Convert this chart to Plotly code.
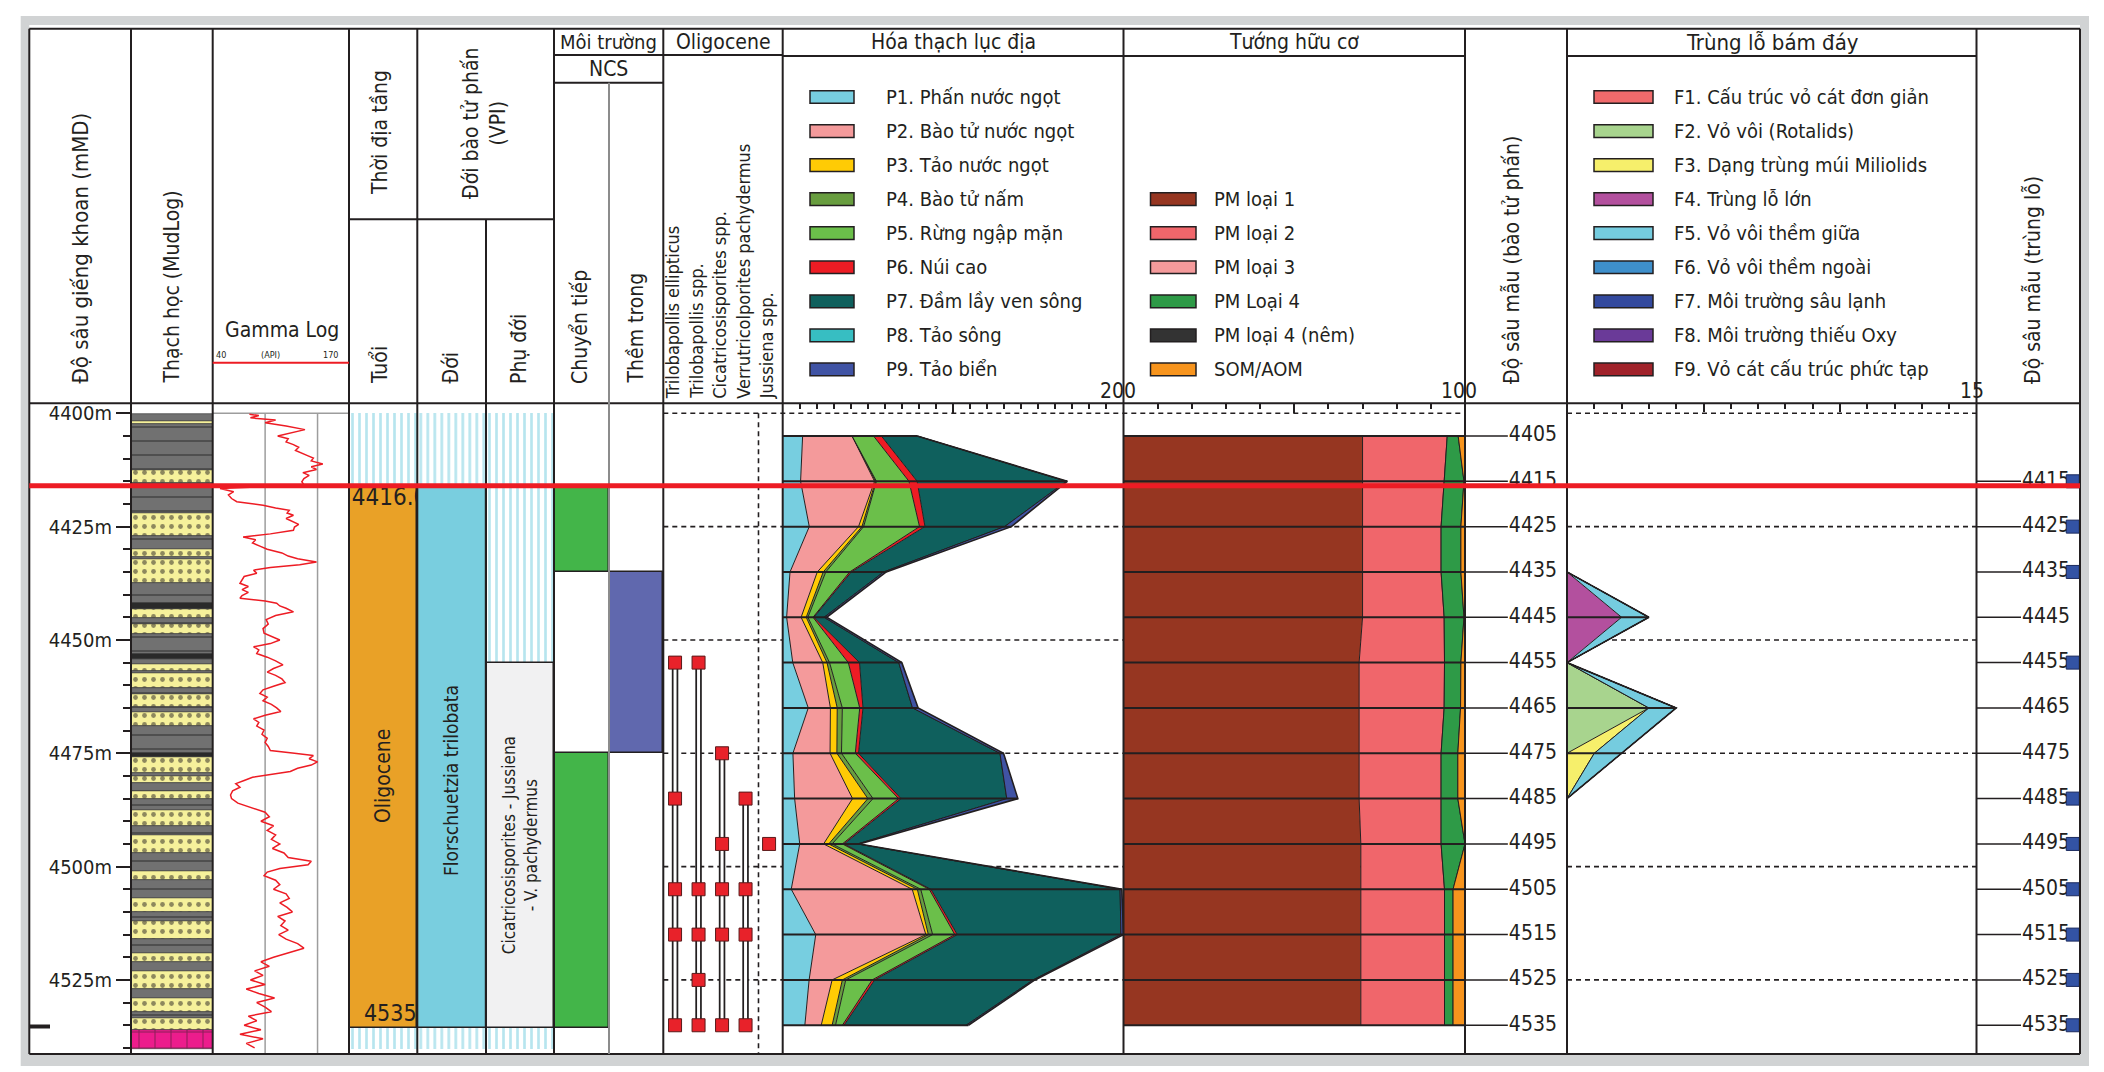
import plotly.graph_objects as go
import numpy as np

W, H = 2104, 1072
D0, Y0, K = 4400.0, 413.3, 4.533          # depth 4400 m at pixel row 413.3, 4.533 px per metre
FONT = "DejaVu Sans Condensed, Liberation Sans Narrow, sans-serif"
INK = "#231F20"

# ---------------- DATA ----------------
samples = [4405, 4415, 4425, 4435, 4445, 4455, 4465, 4475, 4485, 4495, 4505, 4515, 4525, 4535]

# Palynology (Hóa thạch lục địa), counts per sample
pal_names = ["P1. Phấn nước ngọt", "P2. Bào tử nước ngọt", "P3. Tảo nước ngọt", "P4. Bào tử nấm",
             "P5. Rừng ngập mặn", "P6. Núi cao", "P7. Đầm lầy ven sông", "P8. Tảo sông", "P9. Tảo biển"]
pal_colors = ["#77CEE0", "#F49A9B", "#FFCB05", "#689D3F", "#6BBF4A", "#ED1C24", "#0F605D", "#37BEC2", "#4053A4"]
P1 = [11.7, 10.5, 15.6, 4.3, 2.3, 5.9, 15.0, 6.0, 7.0, 10.0, 5.0, 19.4, 15.5, 13.0]
P2 = [29.0, 43.4, 28.9, 16.0, 8.5, 17.6, 13.0, 21.8, 34.0, 14.0, 71.0, 64.6, 13.5, 9.6]
P3 = [0.0, 0.6, 2.0, 3.5, 3.0, 2.5, 4.0, 4.0, 9.0, 3.0, 3.0, 1.5, 6.0, 6.4]
P4 = [0.0, 0.5, 1.0, 1.5, 1.0, 1.5, 3.0, 2.7, 3.0, 2.0, 2.0, 2.5, 2.0, 2.0]
P5 = [12.6, 19.1, 32.8, 14.0, 3.0, 11.0, 10.2, 8.1, 15.0, 6.0, 5.0, 13.0, 15.5, 4.0]
P6 = [4.6, 4.8, 3.2, 1.0, 0.5, 6.6, 1.9, 1.9, 1.5, 1.0, 1.0, 1.5, 1.5, 1.0]
P7 = [21.0, 87.6, 46.7, 19.0, 6.0, 23.0, 29.1, 83.0, 62.0, 8.0, 111.0, 96.0, 93.0, 71.6]
P8 = [0.0, 0.0, 0.0, 0.0, 0.0, 0.0, 0.0, 0.0, 0.0, 0.0, 0.0, 0.0, 0.0, 0.0]
P9 = [0.0, 0.5, 4.0, 1.5, 1.5, 1.8, 3.3, 2.1, 6.5, 1.0, 1.0, 1.5, 1.0, 1.4]

# Organic facies (Tướng hữu cơ), percent
pm_names = ["PM loại 1", "PM loại 2", "PM loại 3", "PM Loại 4", "PM loại 4 (nêm)", "SOM/AOM"]
pm_colors = ["#963621", "#F0666B", "#F49A9B", "#2E9A47", "#333333", "#F7941D"]
PM1 = [70.0, 70.0, 70.0, 70.0, 70.0, 69.0, 69.0, 69.0, 69.0, 69.5, 69.5, 69.5, 69.5, 69.5]
PM2 = [24.8, 23.9, 23.0, 23.0, 23.9, 25.0, 24.9, 24.0, 24.0, 23.5, 24.5, 24.5, 24.5, 24.5]
PM3 = [0.0] * 14
PM4 = [3.2, 5.8, 5.8, 5.8, 5.8, 4.8, 4.8, 4.9, 4.9, 7.0, 2.5, 2.5, 2.5, 2.5]
PM4N = [0.0] * 14
SOM = [2.0, 0.3, 1.2, 1.2, 0.3, 1.2, 1.3, 2.1, 2.1, 0.0, 3.5, 3.5, 3.5, 3.5]

# Benthic foraminifera (Trùng lỗ bám đáy)
fo_names = ["F1. Cấu trúc vỏ cát đơn giản", "F2. Vỏ vôi (Rotalids)", "F3. Dạng trùng múi Miliolids",
            "F4. Trùng lỗ lớn", "F5. Vỏ vôi thềm giữa", "F6. Vỏ vôi thềm ngoài", "F7. Môi trường sâu lạnh",
            "F8. Môi trường thiếu Oxy", "F9. Vỏ cát cấu trúc phức tạp"]
fo_colors = ["#F06A6B", "#A8D48E", "#F6EF6B", "#B3509E", "#75CCDF", "#3E8FCB", "#33499E", "#6A3A98", "#A0222A"]
F1 = [0] * 14
F2 = [0, 0, 0, 0, 0, 0, 3, 0, 0, 0, 0, 0, 0, 0]
F3 = [0, 0, 0, 0, 0, 0, 0, 1, 0, 0, 0, 0, 0, 0]
F4 = [0, 0, 0, 0, 2, 0, 0, 0, 0, 0, 0, 0, 0, 0]
F5 = [0, 0, 0, 0, 1, 0, 1, 1, 0, 0, 0, 0, 0, 0]
F6 = [0] * 14
F7 = [0] * 14
F8 = [0] * 14
F9 = [0] * 14
fo_depth_labels = [4415, 4425, 4435, 4445, 4455, 4465, 4475, 4485, 4495, 4505, 4515, 4525, 4535]
fo_marked = [4415, 4425, 4435, 4455, 4485, 4495, 4505, 4515, 4525, 4535]

# Lithology (MudLog)
litho_top = [4400.2, 4401.7, 4402.4, 4412.5, 4415.4, 4422.1, 4427.1, 4430.0, 4431.6, 4432.1, 4437.4, 4441.8,
             4443.1, 4445.1, 4446.5, 4448.7, 4453.2, 4454.1, 4455.4, 4456.8, 4457.2, 4460.5, 4462.0, 4464.9,
             4466.0, 4469.0, 4474.9, 4475.8, 4479.4, 4480.1, 4481.6, 4483.4, 4485.0, 4487.5, 4491.0, 4493.0,
             4497.0, 4501.0, 4503.0, 4507.0, 4510.0, 4512.0, 4516.0, 4519.0, 4521.0, 4523.0, 4527.0, 4529.0,
             4532.0, 4533.5, 4536.0]
litho_base = litho_top[1:] + [4540.2]
litho_type = ["shale", "sand", "shale", "sand", "shale", "sand", "shale", "sand", "shale", "sand", "shale", "coal",
              "sand", "shale", "sand", "shale", "coal", "shale", "sand", "shale", "sand", "shale", "sand", "shale",
              "sand", "shale", "coal", "sand", "shale", "sand", "shale", "sand", "shale", "sand", "shale", "sand",
              "shale", "sand", "shale", "sand", "shale", "sand", "shale", "sand", "shale", "sand", "shale", "sand",
              "shale", "sand", "basement"]

# Gamma ray log (API)
gr_depth = [4400.2, 4400.5, 4401.0, 4401.5, 4402.1, 4402.8, 4403.6, 4404.3, 4405.0, 4405.6, 4406.3, 4406.9,
            4407.5, 4408.2, 4408.8, 4409.4, 4409.9, 4410.5, 4411.2, 4411.8, 4412.4, 4413.1, 4413.7, 4414.4,
            4415.1, 4415.8, 4416.6, 4417.3, 4418.0, 4418.8, 4419.5, 4420.3, 4420.9, 4421.4, 4422.0, 4422.5,
            4423.2, 4423.8, 4424.5, 4425.1, 4425.8, 4426.6, 4427.3, 4427.9, 4428.6, 4429.3, 4430.0, 4430.8,
            4431.5, 4432.1, 4432.8, 4433.4, 4434.0, 4434.6, 4435.3, 4436.0, 4436.8, 4437.5, 4438.2, 4438.9,
            4439.5, 4440.2, 4440.8, 4441.4, 4441.9, 4442.5, 4443.0, 4443.8, 4444.6, 4445.5, 4446.5, 4447.5,
            4448.5, 4449.3, 4450.0, 4450.8, 4451.5, 4452.2, 4453.0, 4453.8, 4454.6, 4455.5, 4456.3, 4457.1,
            4457.8, 4458.6, 4459.4, 4460.2, 4461.0, 4461.8, 4462.6, 4463.4, 4464.2, 4465.0, 4465.8, 4466.6,
            4467.4, 4468.2, 4469.0, 4469.9, 4470.8, 4471.7, 4472.6, 4473.5, 4474.4, 4475.0, 4475.5, 4476.2,
            4476.9, 4477.6, 4478.3, 4479.0, 4479.7, 4480.3, 4481.0, 4481.7, 4482.5, 4483.3, 4484.2, 4485.0,
            4486.0, 4487.0, 4488.0, 4489.0, 4490.0, 4491.0, 4492.0, 4493.0, 4494.0, 4495.0, 4496.0, 4497.0,
            4498.0, 4498.8, 4499.6, 4500.4, 4501.2, 4502.0, 4503.0, 4504.0, 4505.0, 4506.0, 4507.0, 4508.0,
            4509.0, 4510.0, 4511.0, 4512.0, 4513.0, 4514.0, 4515.0, 4516.0, 4517.0, 4518.0, 4519.0, 4520.0,
            4521.0, 4522.0, 4523.0, 4524.0, 4525.0, 4526.0, 4527.0, 4528.0, 4529.0, 4530.0, 4531.0, 4532.0,
            4533.0, 4534.0, 4535.0, 4536.0, 4537.0, 4538.0, 4539.0, 4540.0]
gr_api = [75, 84, 76, 100, 90, 110, 128, 116, 102, 112, 110, 117,
          122, 119, 126, 131, 136, 134, 145, 134, 139, 126, 132, 127,
          125, 127, 47, 60, 55, 58, 63, 88, 100, 113, 111, 117,
          110, 115, 122, 118, 117, 95, 69, 81, 78, 85, 92, 106,
          112, 121, 139, 123, 95, 79, 82, 70, 68, 66, 74, 68,
          74, 68, 66, 90, 101, 104, 110, 117, 100, 91, 93, 88,
          89, 98, 104, 95, 79, 84, 82, 92, 100, 107, 98, 92,
          100, 106, 109, 98, 88, 85, 92, 88, 96, 101, 105, 90,
          79, 84, 82, 89, 87, 92, 90, 93, 95, 118, 136, 132,
          140, 134, 121, 114, 92, 78, 70, 62, 66, 59, 57, 58,
          64, 78, 90, 94, 86, 98, 92, 100, 96, 104, 97, 108,
          112, 134, 131, 104, 92, 89, 100, 104, 98, 110, 113, 104,
          111, 116, 102, 109, 105, 112, 103, 110, 121, 127, 112, 98,
          86, 94, 80, 88, 76, 90, 72, 84, 99, 82, 90, 96,
          74, 82, 70, 86, 66, 88, 72, 80]
gr_grid = [90, 140]

# Stratigraphy / environment intervals
age_top = [4400.0, 4416.0, 4535.5]
age_base = [4416.0, 4535.5, 4540.2]
age_kind = ["hatch", "fill", "hatch"]
age_name = "Oligocene"
zone_top = [4400.0, 4416.0, 4535.5]
zone_base = [4416.0, 4535.5, 4540.2]
zone_kind = ["hatch", "fill", "hatch"]
zone_name = "Florschuetzia trilobata"
subzone_top = [4400.0, 4455.0, 4535.5]
subzone_base = [4455.0, 4535.5, 4540.2]
subzone_kind = ["hatch", "fill", "hatch"]
subzone_name = "Cicatricosisporites - Jussiena<br>- V. pachydermus"
trans_top = [4416.0, 4475.0]
trans_base = [4435.0, 4535.5]
shelf_top = [4435.0]
shelf_base = [4475.0]
age_labels = ["4416.0", "4535"]

# Oligocene marker species occurrences
sp_names = ["Trilobapollis ellipticus", "Trilobapollis spp.", "Cicatricosisporites spp.",
            "Verrutricolporites pachydermus", "Jussiena spp."]
sp_occ = [[4455, 4485, 4505, 4515, 4535],
          [4455, 4505, 4515, 4525, 4535],
          [4475, 4495, 4505, 4515, 4535],
          [4485, 4505, 4515, 4535],
          [4495]]

depth_ticks = [4400, 4425, 4450, 4475, 4500, 4525]
depth_minor = [4405, 4410, 4415, 4420, 4430, 4435, 4440, 4445, 4455, 4460, 4465, 4470, 4480, 4485, 4490,
               4495, 4505, 4510, 4515, 4520, 4530, 4535, 4540]
boundary_depth = 4416.0

# ---------------- HELPERS ----------------
def dep(y):
    return D0 + (y - Y0) / K

def px(x):
    return x / W

def py(y):
    return 1 - y / H

Y_BOT = dep(1054)
traces = []
shapes = []
annotations = []

def ann(x, y, text, size=21, angle=0, xa="center", ya="middle", xref="paper", yref="paper", align="center"):
    if xref == "paper":
        x = px(x)
    if yref == "paper":
        y = py(y)
    annotations.append(dict(x=x, y=y, xref=xref, yref=yref, text=text, showarrow=False, textangle=angle,
                            xanchor=xa, yanchor=ya, align=align, borderpad=0,
                            font=dict(family=FONT, size=size, color=INK)))

def hline(y, x0, x1, color=INK, width=2, dash=None, layer="above"):
    shapes.append(dict(type="line", xref="paper", yref="paper", x0=px(x0), x1=px(x1), y0=py(y), y1=py(y),
                       line=dict(color=color, width=width, dash=dash), layer=layer))

def vline(x, y0, y1, color=INK, width=2, layer="above"):
    shapes.append(dict(type="line", xref="paper", yref="paper", x0=px(x), x1=px(x), y0=py(y0), y1=py(y1),
                       line=dict(color=color, width=width), layer=layer))

def rect(x0, y0, x1, y1, fill, lc=INK, lw=1.5, layer="above"):
    shapes.append(dict(type="rect", xref="paper", yref="paper", x0=px(x0), x1=px(x1), y0=py(y0), y1=py(y1),
                       fillcolor=fill, line=dict(color=lc, width=lw), layer=layer))

def interval_bars(axis, tops, bases, color, pattern=None, lw=1.5, lc=INK):
    thick = [b - t for t, b in zip(tops, bases)]
    m = dict(color=color, line=dict(color=lc, width=lw))
    if pattern:
        m["pattern"] = pattern
    traces.append(go.Bar(x=[0.5] * len(tops), y=thick, base=tops, width=[1.0] * len(tops), xaxis=axis, yaxis="y",
                         marker=m, hoverinfo="skip", showlegend=False))

HATCH = dict(shape="|", fgcolor="#6FCBDD", bgcolor="white", size=7, solidity=0.38)

def stack(axis, series, colors, depths, names, outer_w=1.6):
    cum = np.zeros(len(depths))
    for i, (vals, col, nm) in enumerate(zip(series, colors, names)):
        cum = cum + np.array(vals, dtype=float)
        traces.append(go.Scatter(x=cum.copy(), y=depths, xaxis=axis, yaxis="y", mode="lines", name=nm,
                                 line=dict(color=INK, width=outer_w if i == len(series) - 1 else 1.0),
                                 fill="tozerox" if i == 0 else "tonextx", fillcolor=col,
                                 hoverinfo="skip", showlegend=False))
    lx, ly = [], []
    for d, t in zip(depths, cum):
        lx += [0, t, None]
        ly += [d, d, None]
    traces.append(go.Scatter(x=lx, y=ly, xaxis=axis, yaxis="y", mode="lines", line=dict(color=INK, width=2),
                             hoverinfo="skip", showlegend=False))

# ---------------- COLUMNS (pixel extents -> axes) ----------------
cols = {
    "x": (131, 212.7, [0, 1]),         # lithology
    "x2": (212.7, 349, [40, 170]),     # gamma
    "x3": (349, 417.3, [0, 1]),        # age
    "x4": (417.3, 486, [0, 1]),        # zone
    "x5": (486, 554, [0, 1]),          # subzone
    "x6": (554, 609, [0, 1]),          # transitional
    "x7": (609, 663.3, [0, 1]),        # inner shelf
    "x8": (663.3, 782.7, [-0.5, 4.58]),  # marker species
    "x9": (782.7, 1123.5, [0, 200]),   # palynology
    "x10": (1123.5, 1465, [0, 100]),   # organic facies
    "x11": (1567, 1976.5, [0, 15]),    # foraminifera
    "x12": (1465, 1567, [0, 1]),       # sample depths (palyno)
    "x13": (1976.5, 2080, [0, 1]),     # sample depths (foram)
}

# ---------------- TRACES ----------------
styles = {
    "sand": dict(color="#F6F19B", pattern=dict(shape=".", fgcolor=INK, bgcolor="#F6F19B", size=9, solidity=0.22)),
    "shale": dict(color="#717171", pattern=dict(shape="-", fgcolor="#1E1E1E", bgcolor="#717171", size=14, solidity=0.12)),
    "coal": dict(color="#2A2A2A", pattern=None),
    "basement": dict(color="#EC1C8C", pattern=dict(shape="+", fgcolor=INK, bgcolor="#EC1C8C", size=16, solidity=0.12)),
}
for kind, st in styles.items():
    tops = [t for t, k in zip(litho_top, litho_type) if k == kind]
    bases = [b for b, k in zip(litho_base, litho_type) if k == kind]
    interval_bars("x", tops, bases, st["color"], st["pattern"], lw=0.6, lc="#333333")

# gamma
gx, gy = [], []
for g in gr_grid:
    gx += [g, g, None]
    gy += [D0, Y_BOT, None]
traces.append(go.Scatter(x=gx, y=gy, xaxis="x2", yaxis="y", mode="lines", line=dict(color="#9D9D9D", width=1.5),
                         hoverinfo="skip", showlegend=False))
traces.append(go.Scatter(x=gr_api, y=gr_depth, xaxis="x2", yaxis="y", mode="lines",
                         line=dict(color="#ED1C24", width=1.5), hoverinfo="skip", showlegend=False))

# age / zone / subzone
for axis, tops, bases, kinds, col in [("x3", age_top, age_base, age_kind, "#E9A127"),
                                      ("x4", zone_top, zone_base, zone_kind, "#79CEDF"),
                                      ("x5", subzone_top, subzone_base, subzone_kind, "#F1F1F2")]:
    ht = [t for t, k in zip(tops, kinds) if k == "hatch"]
    hb = [b for b, k in zip(bases, kinds) if k == "hatch"]
    interval_bars(axis, ht, hb, "white", HATCH, lw=0)
    ft = [t for t, k in zip(tops, kinds) if k == "fill"]
    fb = [b for b, k in zip(bases, kinds) if k == "fill"]
    interval_bars(axis, ft, fb, col, None, lw=1.5)

# interval names (rotated)
ann(0.5, 4480.0, age_name, size=21, angle=-90, xref="x3", yref="y")
ann(0.5, 4481.0, zone_name, size=19, angle=-90, xref="x4", yref="y")
ann(0.5, 4495.3, subzone_name, size=17, angle=-90, xref="x5", yref="y")

# environment
interval_bars("x6", trans_top, trans_base, "#43B549", None, lw=1.5)
interval_bars("x7", shelf_top, shelf_base, "#6068AE", None, lw=1.5)

# text inside age column
traces.append(go.Scatter(x=[0.04], y=[age_top[1] + 0.3], xaxis="x3", yaxis="y", mode="text",
                         text=[age_labels[0]], textposition="bottom right",
                         textfont=dict(family=FONT, size=24, color=INK), cliponaxis=True,
                         hoverinfo="skip", showlegend=False))
traces.append(go.Scatter(x=[0.99], y=[age_base[1] - 0.2], xaxis="x3", yaxis="y", mode="text",
                         text=[age_labels[1]], textposition="top left",
                         textfont=dict(family=FONT, size=23, color=INK), cliponaxis=True,
                         hoverinfo="skip", showlegend=False))

# marker species ranges
for i, occ in enumerate(sp_occ):
    if len(occ) > 1:
        traces.append(go.Scatter(x=[i, i], y=[min(occ), max(occ)], xaxis="x8", yaxis="y", mode="lines",
                                 line=dict(color=INK, width=6.5), hoverinfo="skip", showlegend=False))
        traces.append(go.Scatter(x=[i, i], y=[min(occ), max(occ)], xaxis="x8", yaxis="y", mode="lines",
                                 line=dict(color="white", width=3), hoverinfo="skip", showlegend=False))
for i, occ in enumerate(sp_occ):
    traces.append(go.Scatter(x=[i] * len(occ), y=occ, xaxis="x8", yaxis="y", mode="markers",
                             marker=dict(symbol="square", size=13, color="#E8222A", line=dict(color="#5A1A1A", width=1)),
                             hoverinfo="skip", showlegend=False))

# stacked logs
stack("x9", [P1, P2, P3, P4, P5, P6, P7, P8, P9], pal_colors, samples, pal_names)
stack("x10", [PM1, PM2, PM3, PM4, PM4N, SOM], pm_colors, samples, pm_names)
stack("x11", [F1, F2, F3, F4, F5, F6, F7, F8, F9], fo_colors, samples, fo_names)

# sample depth columns
tx, ty = [], []
for d in samples:
    tx += [0, 0.42, None]
    ty += [d, d, None]
traces.append(go.Scatter(x=tx, y=ty, xaxis="x12", yaxis="y", mode="lines", line=dict(color=INK, width=1.5),
                         hoverinfo="skip", showlegend=False))
traces.append(go.Scatter(x=[0.43] * len(samples), y=samples, xaxis="x12", yaxis="y", mode="text",
                         text=[str(d) for d in samples], textposition="middle right",
                         textfont=dict(family=FONT, size=21, color=INK), cliponaxis=False,
                         hoverinfo="skip", showlegend=False))
tx, ty = [], []
for d in fo_depth_labels:
    tx += [0, 0.43, None]
    ty += [d, d, None]
traces.append(go.Scatter(x=tx, y=ty, xaxis="x13", yaxis="y", mode="lines", line=dict(color=INK, width=1.5),
                         hoverinfo="skip", showlegend=False))
traces.append(go.Scatter(x=[0.44] * len(fo_depth_labels), y=fo_depth_labels, xaxis="x13", yaxis="y", mode="text",
                         text=[str(d) for d in fo_depth_labels], textposition="middle right",
                         textfont=dict(family=FONT, size=21, color=INK), cliponaxis=False,
                         hoverinfo="skip", showlegend=False))
traces.append(go.Scatter(x=[0.93] * len(fo_marked), y=fo_marked, xaxis="x13", yaxis="y", mode="markers",
                         marker=dict(symbol="square", size=13, color="#3353A4", line=dict(color="#1B2A5E", width=1)),
                         hoverinfo="skip", showlegend=False))

# ---------------- FRAME / HEADER ----------------
rect(20.7, 16, 2089, 1066, "#D1D3D4", lc="#D1D3D4", lw=0, layer="below")
rect(29.3, 25, 2080, 1055, "white", lc="white", lw=0, layer="below")

for d in depth_ticks:
    shapes.append(dict(type="line", xref="paper", yref="y", x0=px(663.3), x1=px(1465), y0=d, y1=d,
                       line=dict(color=INK, width=1.6, dash="5px,4px"), layer="below"))
    shapes.append(dict(type="line", xref="paper", yref="y", x0=px(1567), x1=px(1976.5), y0=d, y1=d,
                       line=dict(color=INK, width=1.6, dash="5px,4px"), layer="below"))
shapes.append(dict(type="line", xref="x8", yref="y", x0=3.55, x1=3.55, y0=D0, y1=Y_BOT,
                   line=dict(color=INK, width=1.6, dash="5px,4px"), layer="below"))
shapes.append(dict(type="line", xref="paper", yref="y", x0=px(212.7), x1=px(349), y0=D0, y1=D0,
                   line=dict(color="#9D9D9D", width=1.5), layer="below"))

hline(28.7, 29.3, 2080)
hline(403.3, 29.3, 2080)
hline(1054, 29.3, 2080)
hline(219.3, 349, 554)
hline(55, 554, 782.7)
hline(82.7, 554, 663.3)
hline(56, 782.7, 1465)
hline(56, 1567, 1976.5)
for x in [29.3, 131, 212.7, 349, 417.3, 554, 663.3, 782.7, 1123.5, 1465, 1567, 1976.5, 2080]:
    vline(x, 28.7, 1054)
vline(486, 219.3, 1054)
vline(609, 82.7, 1054, color="#8C8C8C")
shapes.append(dict(type="line", xref="paper", yref="paper", x0=px(29.3), x1=px(50), y0=py(1026.5), y1=py(1026.5),
                   line=dict(color=INK, width=4), layer="above"))
hline(362.7, 212.7, 349, color="#ED1C24", width=2)

shapes.append(dict(type="line", xref="paper", yref="y", x0=px(29.3), x1=px(2080), y0=boundary_depth,
                   y1=boundary_depth, line=dict(color="#ED1C24", width=5), layer="above"))

# header texts
ann(80, 385, "Độ sâu giếng khoan (mMD)", size=22, angle=-90, ya="bottom")
ann(172, 385, "Thạch học (MudLog)", size=21, angle=-90, ya="bottom")
ann(282, 330, "Gamma Log", size=21)
ann(221, 355, "40", size=9)
ann(270, 355, "(API)", size=9)
ann(330, 355, "170", size=9)
ann(380, 133, "Thời địa tầng", angle=-90)
ann(380, 385, "Tuổi", angle=-90, ya="bottom")
ann(484, 124, "Đới bào tử phấn<br>(VPI)", angle=-90)
ann(451, 385, "Đới", angle=-90, ya="bottom")
ann(519, 385, "Phụ đới", angle=-90, ya="bottom")
ann(608.6, 42, "Môi trường", size=20)
ann(608.6, 69, "NCS")
ann(580, 385, "Chuyển tiếp", angle=-90, ya="bottom")
ann(636, 385, "Thềm trong", angle=-90, ya="bottom")
ann(723, 42, "Oligocene")
for i, nm in enumerate(sp_names):
    annotations.append(dict(x=i - 0.1, y=py(400), xref="x8", yref="paper", text=nm, showarrow=False,
                            textangle=-90, xanchor="center", yanchor="bottom", borderpad=0,
                            font=dict(family=FONT, size=18, color=INK)))
ann(953, 42, "Hóa thạch lục địa")
ann(1294, 42, "Tướng hữu cơ")
ann(1772, 42, "Trùng lỗ bám đáy", size=22)
ann(1512, 385, "Độ sâu mẫu (bào tử phấn)", angle=-90, ya="bottom")
ann(2033, 385, "Độ sâu mẫu (trùng lỗ)", angle=-90, ya="bottom")
ann(1118, 391, "200")
ann(1459, 391, "100")
ann(1972, 391, "15")

ROW0, ROWH, SWH = 97.0, 34.05, 12.7
for i, (nm, c) in enumerate(zip(pal_names, pal_colors)):
    yc = ROW0 + i * ROWH
    rect(810, yc - SWH / 2, 854, yc + SWH / 2, c)
    ann(885, yc, nm, size=20, xa="left")
for i, (nm, c) in enumerate(zip(pm_names, pm_colors)):
    yc = ROW0 + (i + 3) * ROWH
    rect(1150.5, yc - SWH / 2, 1196, yc + SWH / 2, c)
    ann(1213, yc, nm, size=20, xa="left")
for i, (nm, c) in enumerate(zip(fo_names, fo_colors)):
    yc = ROW0 + i * ROWH
    rect(1594, yc - SWH / 2, 1653, yc + SWH / 2, c)
    ann(1673, yc, nm, size=20, xa="left")

# ---------------- LAYOUT ----------------
layout = dict(width=W, height=H, margin=dict(l=0, r=0, t=0, b=0), paper_bgcolor="white",
              plot_bgcolor="rgba(0,0,0,0)", showlegend=False, barmode="overlay", bargap=0,
              shapes=shapes, annotations=annotations, hovermode=False)
tick_axes = {"x9": (100, 9, 10, 5), "x10": (50, 9, 10, 5), "x11": (5, 8, 1, 5)}
for key, (a, b, rng) in cols.items():
    name = "xaxis" if key == "x" else "xaxis" + key[1:]
    ax = dict(domain=[px(a), px(b)], range=rng, fixedrange=True, anchor="y", showgrid=False, zeroline=False)
    if key in tick_axes:
        dt, tl, mdt, mtl = tick_axes[key]
        ax.update(visible=True, anchor="free", position=py(403.3), side="top", showline=False,
                  showticklabels=False, ticks="inside", tickmode="linear", tick0=0, dtick=dt, ticklen=tl,
                  tickwidth=1.5, tickcolor=INK,
                  minor=dict(ticks="inside", tickmode="linear", tick0=0, dtick=mdt, ticklen=mtl,
                             tickwidth=1.5, tickcolor=INK))
    else:
        ax.update(visible=False)
    layout[name] = ax
layout["yaxis"] = dict(domain=[0, 1], range=[dep(H), dep(0)], anchor="x", side="left", fixedrange=True,
                       tickmode="array", tickvals=depth_ticks, ticktext=[f"{v}m" for v in depth_ticks],
                       ticks="outside", ticklen=14, tickwidth=1.5, tickcolor=INK, ticklabelstandoff=0,
                       tickfont=dict(family=FONT, size=20, color=INK), showgrid=False, zeroline=False,
                       showline=False,
                       minor=dict(tickmode="array", tickvals=depth_minor, ticks="outside", ticklen=7,
                                  tickwidth=1.5, tickcolor=INK))

fig = go.Figure(data=traces, layout=layout)
fig.write_html("out.html", config={"displayModeBar": False}, post_script="document.body.style.margin='0';")
